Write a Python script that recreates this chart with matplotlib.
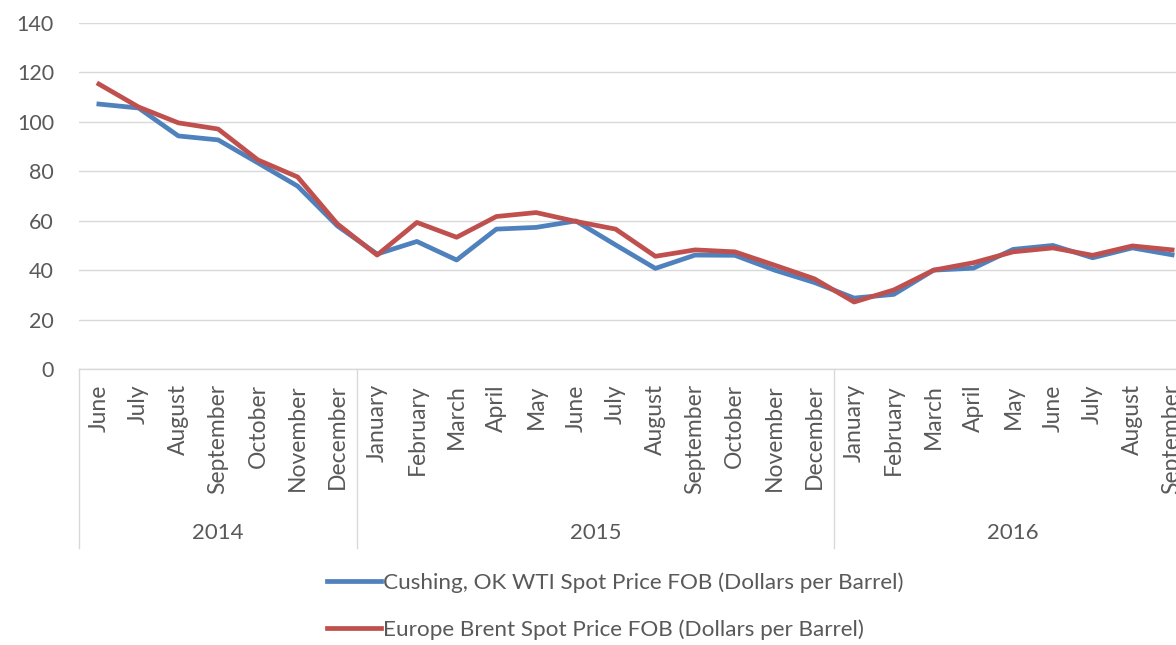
import matplotlib
matplotlib.use("Agg")
import matplotlib.pyplot as plt
from matplotlib.lines import Line2D
from matplotlib.transforms import blended_transform_factory

plt.rcParams['font.family'] = ['Lato', 'DejaVu Sans']

months = ["June", "July", "August", "September", "October", "November", "December",
          "January", "February", "March", "April", "May", "June", "July", "August",
          "September", "October", "November", "December",
          "January", "February", "March", "April", "May", "June", "July", "August", "September"]
years = ["2014", "2015", "2016"]
year_counts = [7, 12, 9]

wti = [107.2, 105.6, 94.3, 92.7, 83.4, 74.0, 57.9,
       46.5, 51.6, 44.1, 56.6, 57.3, 59.9, 50.2, 40.7, 46.1, 46.0, 40.0, 35.0,
       28.7, 30.2, 40.0, 40.8, 48.4, 50.0, 45.0, 49.0, 46.2]
brent = [115.3, 106.0, 99.6, 97.1, 84.6, 77.7, 58.7,
         46.1, 59.3, 53.3, 61.7, 63.3, 59.7, 56.6, 45.6, 48.2, 47.4, 42.0, 36.5,
         27.1, 32.0, 40.0, 43.0, 47.4, 49.0, 46.0, 49.8, 48.2]

series_names = ["Cushing, OK WTI Spot Price FOB (Dollars per Barrel)",
                "Europe Brent Spot Price FOB (Dollars per Barrel)"]
colors = ["#4F81BD", "#C0504D"]
text_color = "#595959"
grid_color = "#D9D9D9"

W, H = 1176, 645
fig = plt.figure(figsize=(W / 100, H / 100), dpi=100)
left_px, right_px, top_px, bottom_px = 79, 1192, 23, 369
ax = fig.add_axes([left_px / W, 1 - bottom_px / H, (right_px - left_px) / W, (bottom_px - top_px) / H])

x = list(range(len(months)))
ax.plot(x, wti, color=colors[0], lw=3.4, solid_joinstyle='round', label=series_names[0], clip_on=False)
ax.plot(x, brent, color=colors[1], lw=3.4, solid_joinstyle='round', label=series_names[1], clip_on=False)

ax.set_xlim(-0.5, len(months) - 0.5)
ax.set_ylim(0, 140)
ax.set_yticks(range(0, 141, 20))
ax.yaxis.grid(True, color=grid_color, lw=1.0)
ax.set_axisbelow(True)
for s in ["top", "right", "left"]:
    ax.spines[s].set_visible(False)
ax.spines["bottom"].set_color(grid_color)
ax.spines["bottom"].set_linewidth(1.0)

ax.tick_params(axis='y', length=0, pad=18, labelsize=15.5, labelcolor=text_color)
ax.set_xticks(x)
ax.set_xticklabels(months, rotation=90, va='top', ha='center')
ax.tick_params(axis='x', length=0, pad=11, labelsize=16.5, labelcolor=text_color)

# year group labels and separators
trans = blended_transform_factory(ax.transData, ax.transAxes)
sep_depth = (548 - 369) / (bottom_px - top_px)
start = 0
bounds = [-0.5]
for yr, n in zip(years, year_counts):
    center = start + (n - 1) / 2
    ax.annotate(yr, xy=(center, 0), xycoords=trans, xytext=(0, -(533 - 369) * 0.72),
                textcoords='offset points', ha='center', va='center',
                fontsize=16, color=text_color, annotation_clip=False)
    start += n
    bounds.append(start - 0.5)
for b in bounds[:-1]:
    ax.add_line(Line2D([b, b], [0, -sep_depth], transform=trans, color=grid_color,
                       lw=1.0, clip_on=False))

handles = [Line2D([], [], color=c, lw=3.4) for c in colors]
fig.legend(handles, series_names, loc='center', bbox_to_anchor=(615 / W, 1 - 606 / H),
           frameon=False, fontsize=16.2, labelcolor=text_color, handlelength=2.4,
           handletextpad=0.1, labelspacing=1.15)

fig.savefig("out.png", dpi=100, facecolor="white")
